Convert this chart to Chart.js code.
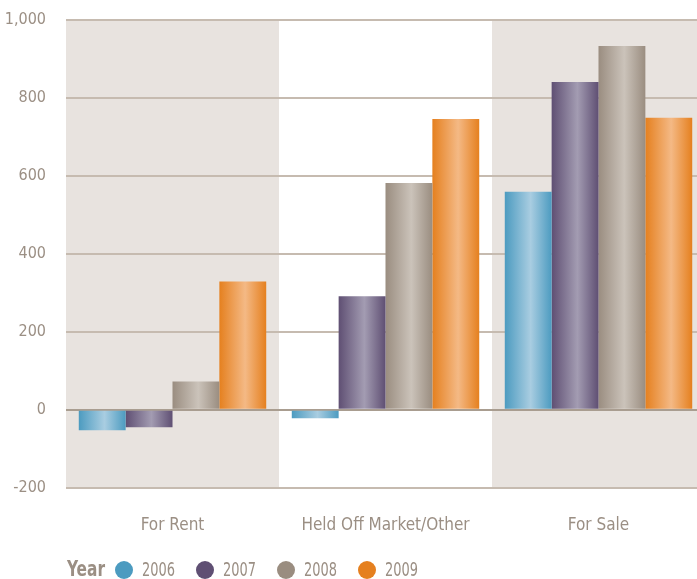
<!DOCTYPE html>
<html>
<head>
<meta charset="utf-8">
<script src="https://cdn.jsdelivr.net/npm/chart.js@4"></script>
<style>
  html, body { margin: 0; padding: 0; background: #ffffff; overflow: hidden; }
  #wrap { width: 706px; height: 579px; }
</style>
</head>
<body>
<div id="wrap"><canvas id="chart" width="706" height="579"></canvas></div>
<script>
//-------------------------------DATA----------------------------------------
const categories = ['For Rent', 'Held Off Market/Other', 'For Sale'];
const years = ['2006', '2007', '2008', '2009'];
const v2006 = [-53, -22, 559];
const v2007 = [-45, 291, 841];
const v2008 = [72, 582, 933];
const v2009 = [329, 746, 749];
const yTicks = [-200, 0, 200, 400, 600, 800, 1000];

// edge colour / highlight colour for the shiny bars
const barColors = [
    ['#4c9bc0', '#a9cde1'],
    ['#5f4f73', '#a39cb2'],
    ['#9a8d80', '#cbc3ba'],
    ['#e5801f', '#f4b985']
];

const textColor = '#9b8f84';
const fontFamily = '"Liberation Sans Narrow", "DejaVu Sans Condensed", "Roboto Condensed", sans-serif';

//-------------------------------PLUGINS----------------------------------------

// beige bands behind the 1st and 3rd category
const bandPlugin = {
    id: 'bands',
    beforeDraw(chart) {
        const { ctx, chartArea, scales } = chart;
        const xs = scales.x;
        const cat = xs.width / categories.length;
        ctx.save();
        ctx.fillStyle = '#e8e3df';
        categories.forEach((c, i) => {
            if (i % 2 === 1) return;
            const cx = xs.getPixelForValue(i);
            ctx.fillRect(cx - cat / 2, chartArea.top, cat, chartArea.bottom - chartArea.top);
        });
        ctx.restore();
    }
};

// horizontal gradient on each bar (cylinder look)
const shinePlugin = {
    id: 'shine',
    beforeDatasetsDraw(chart) {
        const ctx = chart.ctx;
        chart.data.datasets.forEach((ds, di) => {
            const meta = chart.getDatasetMeta(di);
            const [edge, hi] = barColors[di];
            meta.data.forEach(bar => {
                const left = bar.x - bar.width / 2;
                const g = ctx.createLinearGradient(left, 0, left + bar.width, 0);
                g.addColorStop(0, edge);
                g.addColorStop(0.55, hi);
                g.addColorStop(1, edge);
                bar.options = Object.assign({}, bar.options, { backgroundColor: g });
            });
        });
    }
};

// draw text squeezed to a given width (the original uses a condensed face)
function fitText(ctx, text, x, y, w) {
    const mw = ctx.measureText(text).width;
    const sx = Math.min(1, w / mw);
    ctx.save();
    ctx.translate(x, y);
    ctx.scale(sx, 1);
    ctx.fillText(text, 0, 0);
    ctx.restore();
}

// "Year" legend along the bottom
const legendPlugin = {
    id: 'yearLegend',
    afterDraw(chart) {
        const ctx = chart.ctx;
        const y = 570;
        ctx.save();
        ctx.textBaseline = 'middle';
        ctx.fillStyle = textColor;
        ctx.font = 'bold 22px ' + fontFamily;
        fitText(ctx, 'Year', 67, y, 38);
        ctx.font = '19px ' + fontFamily;
        years.forEach((yr, i) => {
            const cx = 124 + i * 81;
            ctx.beginPath();
            ctx.arc(cx, y, 9, 0, Math.PI * 2);
            ctx.fillStyle = barColors[i][0];
            ctx.fill();
            ctx.fillStyle = textColor;
            fitText(ctx, yr, cx + 18, y + 1, 33);
        });
        ctx.restore();
    }
};

//-------------------------------CHART----------------------------------------
const seriesValues = [v2006, v2007, v2008, v2009];

const ctx = document.getElementById('chart').getContext('2d');
const chart = new Chart(ctx, {
    type: 'bar',
    data: {
        labels: categories,
        datasets: years.map((yr, i) => ({
            label: yr,
            data: seriesValues[i],
            backgroundColor: barColors[i][0],
            borderWidth: 0,
            categoryPercentage: 0.88,
            barPercentage: 1.0
        }))
    },
    options: {
        responsive: false,
        animation: false,
        layout: { padding: { top: 20, right: 1, bottom: 15, left: 0 } },
        plugins: {
            legend: { display: false },
            tooltip: { enabled: false }
        },
        scales: {
            x: {
                grid: { display: false, drawTicks: false },
                border: { display: false },
                ticks: {
                    color: textColor,
                    padding: 28,
                    font: { family: fontFamily, size: 17 }
                }
            },
            y: {
                min: -200,
                max: 1000,
                afterFit(scale) {
                    scale.width = 66;
                    scale.paddingTop = 0;
                    scale.paddingBottom = 0;
                },
                afterBuildTicks(scale) { scale.ticks = yTicks.map(v => ({ value: v })); },
                grid: {
                    drawTicks: false,
                    lineWidth: 2,
                    color: c => (c.tick && c.tick.value === 0) ? '#a99d90' : '#c6bbb0'
                },
                border: { display: false },
                ticks: {
                    color: textColor,
                    padding: 20,
                    font: { family: fontFamily, size: 16 }
                }
            }
        }
    },
    plugins: [bandPlugin, shinePlugin, legendPlugin]
});
</script>
</body>
</html>
